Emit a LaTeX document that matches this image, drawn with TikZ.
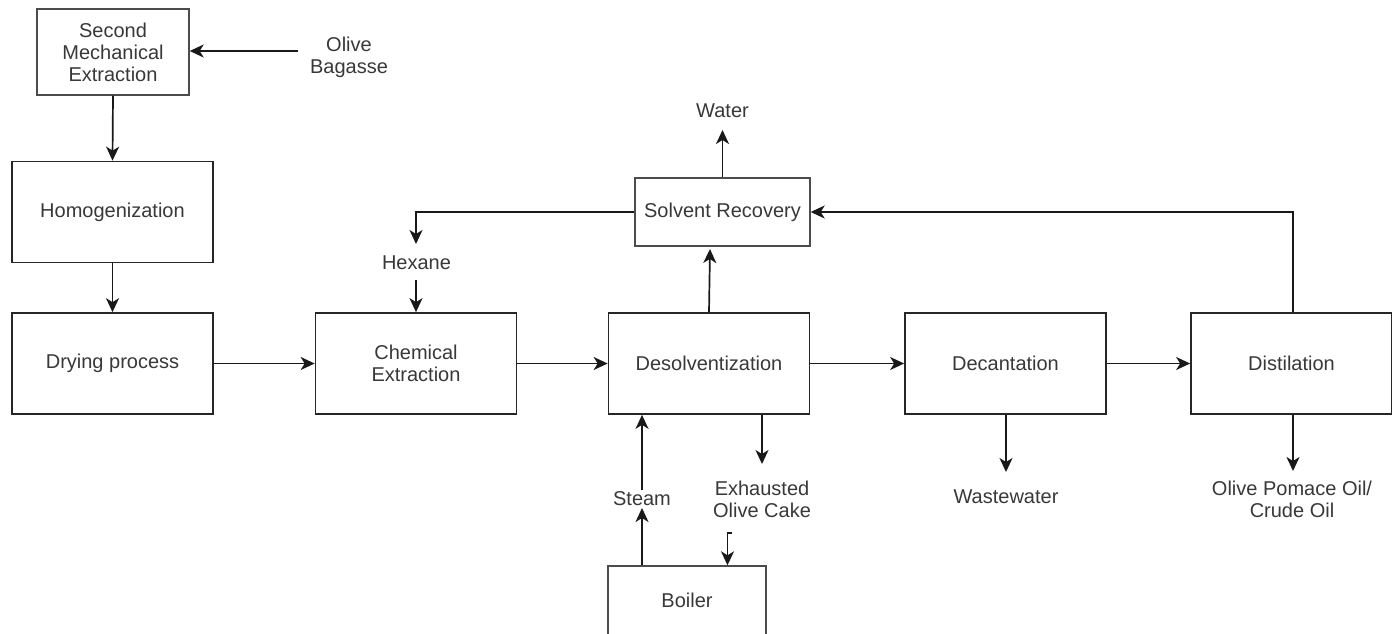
\documentclass[tikz,border=0pt]{standalone}
\usepackage{fontspec}
\setmainfont{Liberation Sans}
\usetikzlibrary{arrows.meta}
\begin{document}
\begin{tikzpicture}[x=1pt,y=-1pt,
  every node/.style={font=\fontsize{20}{22}\selectfont, text=black!78, align=center, inner sep=0pt},
  procbox/.style={draw=black!85, line width=1.7pt, minimum width=201pt, minimum height=101pt},
  smallbox/.style={draw=black!70, line width=1.4pt},
  flow/.style={draw=black!90, line width=1.7pt, -{Stealth[length=14pt,width=13pt,inset=4pt]}},
  lbl/.style={text=black!78}]
\useasboundingbox (0,0) rectangle (1392,633);
\clip (0,0) rectangle (1392,633);
% boxes
\node[smallbox, minimum width=152pt, minimum height=86pt] (sme) at (113,52) {Second\\Mechanical\\Extraction};
\node[procbox] (hom) at (112.5,212) {Homogenization};
\node[procbox] (dry) at (112.5,363.5) {Drying process};
\node[procbox] (chem) at (416,363.5) {Chemical\\Extraction};
\node[procbox] (des) at (709,363.5) {Desolventization};
\node[procbox] (dec) at (1005.5,363.5) {Decantation};
\node[procbox] (dis) at (1291.5,363.5) {Distilation};
\node[smallbox, minimum width=175pt, minimum height=68pt] (sol) at (722.5,212) {Solvent Recovery};
\node[smallbox, minimum width=158pt, minimum height=70pt] (boi) at (687,601) {};
\node (boit) at (687,600) {Boiler};
% labels
\node[lbl] (bag) at (349,57) {Olive\\Bagasse};
\node[lbl] (wat) at (722.5,111) {Water};
\node[lbl] (hex) at (416.5,263) {Hexane};
\node[lbl] (stm) at (642,499) {Steam};
\node[lbl] (exh) at (762,499) {Exhausted\\Olive Cake};
\node[lbl] (ww) at (1006,497) {Wastewater};
\node[lbl] (opo) at (1292,499) {Olive Pomace Oil/\\Crude Oil};
% coordinates
\coordinate (bagt) at (298,51);
\coordinate (watt) at (722.5,130);
\coordinate (hext) at (416,244);
\coordinate (hexs) at (416,280);
\coordinate (solin) at (710,249);
\coordinate (stmt) at (642,508);
\coordinate (stms) at (642,490);
\coordinate (exht) at (762,464);
\coordinate (dect) at (1006,472);
\coordinate (dist) at (1293,471);
\coordinate (hook) at (732,533);
% connectors
\draw[flow] (bagt) -- (sme.east |- bagt);
\draw[flow] (sme.south) -- (hom.north);
\draw[flow] (hom.south) -- (dry.north);
\draw[flow] (dry.east) -- (chem.west);
\draw[flow] (chem.east) -- (des.west);
\draw[flow] (des.east) -- (dec.west);
\draw[flow] (dec.east) -- (dis.west);
\draw[flow] (sol.north) -- (watt);
\draw[flow] (sol.west) -| (hext);
\draw[flow] (hexs) -- (chem.north -| hexs);
\draw[flow] (des.north -| 709,0) -- (solin);
\draw[flow] (dis.north -| dist) |- (sol.east);
\draw[flow] (boi.north -| stmt) -- (stmt);
\draw[flow] (stms) -- (des.south -| stms);
\draw[flow] (des.south -| exht) -- (exht);
\draw[flow] (dec.south -| dect) -- (dect);
\draw[flow] (dis.south -| dist) -- (dist);
\draw[flow] (hook) -- (727.5,533) -- (boi.north -| 727.5,0);
\end{tikzpicture}
\end{document}
